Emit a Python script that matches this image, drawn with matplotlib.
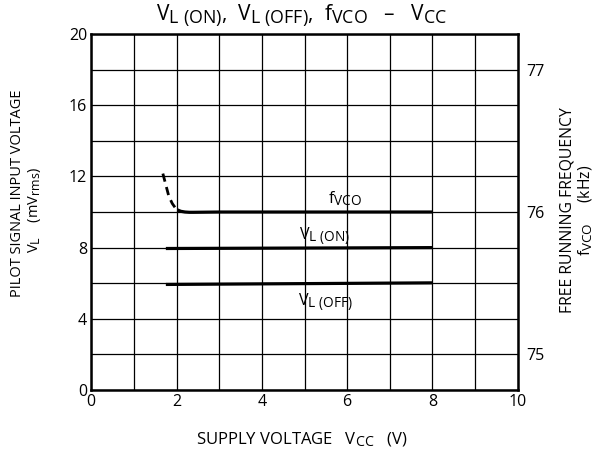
import matplotlib
matplotlib.use("Agg")
import matplotlib.pyplot as plt
import matplotlib._mathtext as _mt

_mt.SHRINK_FACTOR = 0.85

plt.rcParams['font.family'] = ['Open Sans', 'DejaVu Sans']
plt.rcParams['mathtext.fontset'] = 'custom'
plt.rcParams['mathtext.rm'] = 'Open Sans'
plt.rcParams['mathtext.it'] = 'Open Sans:italic'
plt.rcParams['mathtext.bf'] = 'Open Sans:bold'

# Data
vcc_on = [1.75, 8.0]
vl_on = [7.95, 8.0]
vcc_off = [1.75, 8.0]
vl_off = [5.93, 6.02]
vcc_f_dash = [1.68, 1.75, 1.82, 1.9, 1.97, 2.02]
f_dash = [76.27, 76.19, 76.11, 76.06, 76.03, 76.015]
vcc_f_solid = [2.02, 2.1, 2.2, 2.3, 2.4, 3.0, 5.0, 8.0]
f_solid = [76.015, 76.005, 76.0, 75.998, 75.998, 76.0, 76.0, 76.0]

x_ticks = [0, 2, 4, 6, 8, 10]
yl_ticks = [0, 4, 8, 12, 16, 20]
yr_ticks = [75, 76, 77]

fig = plt.figure(figsize=(6.0, 4.54), dpi=100)
ax = fig.add_axes([0.152, 0.141, 0.711, 0.784])
ax.set_xlim(0, 10)
ax.set_ylim(0, 20)
ax.set_xticks(range(0, 11))
ax.set_xticklabels([str(v) if v in x_ticks else '' for v in range(0, 11)])
ax.set_yticks(range(0, 21, 2))
ax.set_yticklabels([str(v) if v in yl_ticks else '' for v in range(0, 21, 2)])
ax.grid(True, color='black', linewidth=0.9)
ax.tick_params(length=0, labelsize=11.5)
ax.tick_params(axis='x', pad=3)
ax.tick_params(axis='y', pad=3)
for s in ax.spines.values():
    s.set_linewidth(1.8)

ax.plot(vcc_on, vl_on, color='black', lw=2.3, solid_capstyle='butt')
ax.plot(vcc_off, vl_off, color='black', lw=2.3, solid_capstyle='butt')

ax2 = ax.twinx()
ax2.set_ylim(74.75, 77.25)
ax2.set_yticks(yr_ticks)
ax2.tick_params(length=0, labelsize=11.5, pad=6)
for s in ax2.spines.values():
    s.set_visible(False)
ax2.plot(vcc_f_dash, f_dash, color='black', lw=2.0, linestyle=(0, (3, 2)))
ax2.plot(vcc_f_solid, f_solid, color='black', lw=2.3, solid_capstyle='butt')

ax.text(5.95, 10.75, r'f$_{\mathrm{VCO}}$', fontsize=11.5, ha='center', va='center')
ax.text(5.48, 8.6, r'V$_{\mathrm{L\ (ON)}}$', fontsize=11.5, ha='center', va='center')
ax.text(5.48, 4.9, r'V$_{\mathrm{L\ (OFF)}}$', fontsize=11.5, ha='center', va='center')

fig.text(0.503, 0.963,
         r'V$_{\mathrm{L\ (ON)}}$,  V$_{\mathrm{L\ (OFF)}}$,  f$_{\mathrm{VCO}}$   –   V$_{\mathrm{CC}}$',
         fontsize=15, ha='center', va='center')
fig.text(0.503, 0.031, r'SUPPLY VOLTAGE   V$_{\mathrm{CC}}$   (V)', fontsize=12,
         ha='center', va='center')
fig.text(0.03, 0.575, 'PILOT SIGNAL INPUT VOLTAGE', rotation=90, fontsize=10.5,
         ha='center', va='center')
fig.text(0.058, 0.537, r'V$_{\mathrm{L}}$    (mV$_{\mathrm{rms}}$)', rotation=90, fontsize=10.5,
         ha='center', va='center')
fig.text(0.946, 0.537, 'FREE RUNNING FREQUENCY', rotation=90, fontsize=11.3,
         ha='center', va='center')
fig.text(0.977, 0.537, r'f$_{\mathrm{VCO}}$     (kHz)', rotation=90, fontsize=11.3,
         ha='center', va='center')

fig.savefig('out.png', dpi=100)
